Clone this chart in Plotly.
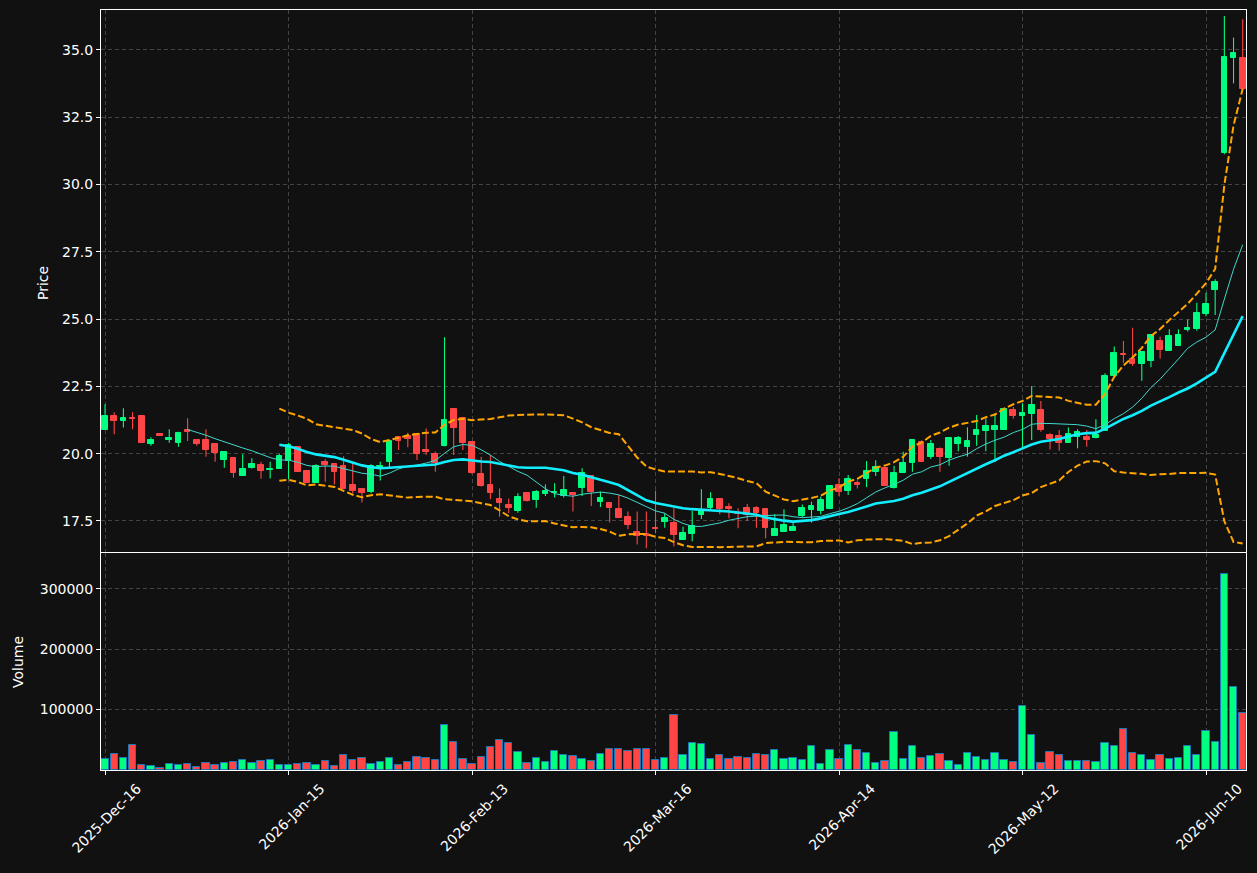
import pandas as pd
import numpy as np
import plotly.graph_objects as go
from plotly.subplots import make_subplots

# ---------------- data ----------------
open_ = [20.88, 21.40, 21.23, 21.33, 21.40, 20.37, 20.73, 20.51, 20.41, 20.88,
         20.51, 20.51, 20.36, 19.77, 19.84, 19.18, 19.47, 19.58, 19.39, 19.45,
         19.74, 20.24, 19.36, 18.92, 19.68, 19.61, 19.54, 18.84, 18.69, 18.59,
         19.50, 19.70, 20.61, 20.66, 20.72, 20.14, 19.99, 20.30, 21.65, 21.34,
         20.42, 19.25, 18.84, 18.32, 18.09, 17.88, 18.53, 18.28, 18.50, 18.55,
         18.44, 18.53, 18.74, 19.18, 18.22, 18.16, 17.93, 17.64, 17.10, 17.01,
         17.25, 17.47, 17.41, 16.79, 17.02, 17.72, 17.97, 18.32, 18.03, 17.80,
         17.99, 17.99, 17.94, 16.95, 17.10, 17.14, 17.69, 17.91, 17.87, 17.94,
         18.84, 18.63, 18.91, 19.05, 19.33, 19.47, 18.71, 19.30, 19.67, 20.45,
         19.89, 20.18, 19.85, 20.36, 20.26, 20.70, 20.84, 20.88, 20.88, 21.62,
         21.40, 21.48, 21.62, 20.70, 20.66, 20.41, 20.63, 20.63, 20.57, 20.86,
         22.89, 23.70, 23.52, 23.33, 23.45, 24.17, 23.82, 24.01, 24.60, 24.62,
         25.19, 26.08, 31.18, 34.71, 34.71]
high = [21.84, 21.54, 21.69, 21.54, 21.40, 20.61, 20.73, 20.91, 20.82, 21.32,
        20.51, 20.91, 20.36, 20.06, 19.84, 19.98, 19.83, 19.70, 19.70, 19.99,
        20.40, 20.27, 19.36, 19.61, 19.79, 19.61, 19.91, 19.67, 18.69, 19.61,
        19.70, 20.47, 20.61, 20.78, 20.72, 20.94, 20.08, 24.33, 21.65, 21.34,
        20.45, 19.89, 19.95, 18.71, 18.34, 18.53, 18.55, 18.65, 18.86, 18.90,
        19.17, 18.55, 19.46, 19.18, 18.59, 18.16, 18.47, 17.85, 17.85, 17.85,
        18.63, 17.79, 17.97, 17.29, 17.87, 18.68, 18.57, 18.32, 18.16, 17.97,
        18.13, 18.05, 17.94, 17.75, 17.94, 17.44, 18.11, 18.22, 18.40, 18.84,
        19.09, 19.21, 19.00, 19.73, 19.76, 19.50, 19.55, 20.07, 20.55, 20.50,
        20.51, 20.23, 20.57, 20.66, 20.98, 21.44, 21.31, 21.50, 21.71, 21.74,
        21.87, 22.52, 21.96, 20.76, 20.88, 20.97, 20.91, 20.88, 21.28, 22.99,
        23.98, 24.19, 24.68, 23.79, 24.42, 24.35, 24.62, 24.62, 24.99, 25.61,
        25.98, 26.48, 36.26, 35.46, 36.14]
low = [20.88, 20.72, 20.97, 20.91, 20.41, 20.30, 20.66, 20.41, 20.26, 20.47,
       20.30, 19.89, 19.70, 19.48, 19.11, 19.18, 19.45, 19.07, 19.08, 19.45,
       19.05, 19.33, 18.90, 18.92, 18.96, 18.86, 18.69, 18.53, 18.19, 18.53,
       19.00, 19.49, 20.14, 20.24, 19.77, 19.96, 19.33, 20.27, 19.95, 20.14,
       19.25, 18.78, 18.31, 17.66, 17.79, 17.81, 18.22, 17.99, 18.43, 18.37,
       18.37, 17.85, 18.43, 18.06, 18.02, 17.44, 17.62, 17.19, 16.63, 16.49,
       17.04, 17.25, 16.55, 16.79, 16.75, 17.57, 17.95, 17.75, 17.60, 17.23,
       17.50, 17.25, 16.86, 16.95, 17.10, 17.14, 17.63, 17.44, 17.75, 17.94,
       18.43, 18.47, 18.71, 18.76, 19.17, 18.81, 18.71, 19.30, 19.33, 19.70,
       19.80, 19.33, 19.55, 20.09, 19.89, 20.30, 20.09, 19.68, 20.88, 21.31,
       20.20, 20.51, 20.82, 20.16, 20.11, 20.41, 20.20, 20.26, 20.57, 20.86,
       22.89, 23.38, 23.26, 22.71, 23.21, 23.54, 23.82, 24.01, 24.54, 24.57,
       25.11, 25.15, 31.13, 33.76, 33.55]
close = [21.40, 21.23, 21.33, 21.30, 20.41, 20.51, 20.66, 20.58, 20.78, 20.80,
         20.36, 20.14, 20.04, 20.06, 19.29, 19.43, 19.62, 19.37, 19.45, 19.91,
         20.31, 19.33, 18.90, 19.54, 19.58, 19.33, 18.69, 18.61, 18.55, 19.54,
         19.56, 20.47, 20.49, 20.55, 19.99, 20.08, 19.67, 21.25, 20.97, 20.39,
         19.27, 18.80, 18.53, 18.18, 17.99, 18.38, 18.25, 18.57, 18.61, 18.58,
         18.65, 18.47, 19.27, 18.59, 18.37, 17.99, 17.62, 17.35, 16.95, 16.95,
         17.19, 17.62, 16.98, 17.07, 17.33, 17.91, 18.32, 17.95, 17.94, 17.77,
         17.72, 17.79, 17.25, 17.20, 17.35, 17.29, 17.99, 18.06, 18.28, 18.80,
         18.59, 19.06, 18.84, 19.36, 19.50, 18.81, 19.27, 19.64, 20.51, 19.70,
         20.36, 19.89, 20.57, 20.57, 20.47, 20.88, 21.03, 21.03, 21.66, 21.40,
         21.52, 21.81, 20.88, 20.54, 20.41, 20.72, 20.81, 20.51, 20.70, 22.89,
         23.76, 23.66, 23.33, 23.79, 24.42, 23.85, 24.38, 24.42, 24.66, 25.22,
         25.56, 26.39, 34.73, 34.90, 33.55]
volume = [17600, 25900, 19300, 40700, 7700, 6100, 2800, 9400, 7700, 9400,
          4400, 11000, 7700, 11000, 12700, 16000, 11000, 14300, 16000, 7700,
          7700, 9400, 11000, 7700, 14300, 6100, 24200, 16000, 19300, 9400,
          12700, 19300, 7700, 12700, 20900, 19300, 16000, 73700, 45700, 17600,
          9400, 20900, 37400, 49000, 44000, 29200, 11000, 19300, 12700, 30800,
          24200, 22600, 17600, 14300, 25900, 34100, 34100, 30800, 34100, 34100,
          16000, 19300, 90300, 24200, 44000, 42400, 17600, 24200, 17600, 20900,
          19300, 25900, 24200, 32500, 17600, 19300, 16000, 39100, 9400, 32500,
          17600, 40700, 32500, 27500, 11000, 14300, 62200, 17600, 39100, 19300,
          22600, 25900, 14300, 7700, 27500, 20900, 16000, 27500, 16000, 12700,
          105100, 57200, 11000, 29200, 24200, 14300, 14300, 14300, 12700, 44000,
          39100, 67100, 27500, 24200, 16000, 24200, 17600, 19300, 39100, 24200,
          63800, 45700, 324700, 136500, 93600]

start_date = "2025-12-16"
market_holidays = ["2025-12-25", "2026-01-01", "2026-01-19", "2026-02-16",
                   "2026-04-03", "2026-05-25"]
tick_labels = ["2025-Dec-16", "2026-Jan-15", "2026-Feb-13", "2026-Mar-16",
               "2026-Apr-14", "2026-May-12", "2026-Jun-10"]
price_ticks = [17.5, 20.0, 22.5, 25.0, 27.5, 30.0, 32.5, 35.0]
volume_ticks = [100000, 200000, 300000]

# ---------------- derived ----------------
dates = pd.date_range(start=start_date, periods=len(close),
                      freq=pd.offsets.CustomBusinessDay(holidays=market_holidays))
labels = [d.strftime("%Y-%b-%d") for d in dates]

o = np.array(open_); c = np.array(close); h = np.array(high); l = np.array(low)
up = c >= o
UP, DN = "#00FF80", "#FF4545"
colors = [UP if u else DN for u in up]

cs = pd.Series(c)
ma10 = cs.rolling(10).mean()
ma20 = cs.rolling(20).mean()
sd20 = cs.rolling(20).std(ddof=0)
bb_up = ma20 + 2 * sd20
bb_lo = ma20 - 2 * sd20

fig = make_subplots(rows=2, cols=1, shared_xaxes=True, vertical_spacing=0,
                    row_heights=[0.7132, 0.2868])

# candle bodies
fig.add_trace(go.Bar(x=labels, y=np.abs(c - o), base=np.minimum(o, c),
                     width=0.62, marker=dict(color=colors,
                                             line=dict(color=colors, width=1)),
                     hoverinfo="skip", showlegend=False), row=1, col=1)


def wick(mask, color):
    xs, ys = [], []
    for i in np.where(mask)[0]:
        xs += [labels[i], labels[i], None]
        ys += [l[i], h[i], None]
    return go.Scatter(x=xs, y=ys, mode="lines", line=dict(color=color, width=1.1),
                      hoverinfo="skip", showlegend=False)


fig.add_trace(wick(up, UP), row=1, col=1)
fig.add_trace(wick(~up, DN), row=1, col=1)

# indicator lines
fig.add_trace(go.Scatter(x=labels, y=ma10, mode="lines",
                         line=dict(color="#40D8CC", width=1), showlegend=False),
              row=1, col=1)
fig.add_trace(go.Scatter(x=labels, y=ma20, mode="lines",
                         line=dict(color="#12EEFF", width=2.6), showlegend=False),
              row=1, col=1)
for band in (bb_up, bb_lo):
    fig.add_trace(go.Scatter(x=labels, y=band, mode="lines",
                             line=dict(color="#FFA500", width=2, dash="7px,3px"),
                             showlegend=False), row=1, col=1)

# volume
fig.add_trace(go.Bar(x=labels, y=volume, width=0.8,
                     marker=dict(color=colors, line=dict(color="#1F77B4", width=1)),
                     showlegend=False), row=2, col=1)

FONT = dict(family="DejaVu Sans", size=14, color="#FFFFFF")
grid = dict(showgrid=True, gridcolor="#444444", griddash="4px,3px", gridwidth=1,
            showline=True, linecolor="#FFFFFF", linewidth=1, mirror=True,
            zeroline=False)

fig.update_layout(
    width=1257, height=873,
    paper_bgcolor="#111111", plot_bgcolor="#111111",
    margin=dict(l=101, r=11, t=10, b=103),
    font=FONT, barmode="overlay", bargap=0, showlegend=False,
    annotations=[
        dict(text="Price", xref="paper", yref="paper", x=(43 - 101) / 1145,
             y=(770 - 283) / 760, textangle=-90, showarrow=False,
             xanchor="center", yanchor="middle", font=FONT),
        dict(text="Volume", xref="paper", yref="paper", x=(18 - 101) / 1145,
             y=(770 - 662) / 760, textangle=-90, showarrow=False,
             xanchor="center", yanchor="middle", font=FONT),
    ],
)

xr = [-0.44, len(close) - 1 + 0.36]
fig.update_xaxes(type="category", range=xr, tickvals=tick_labels, **grid)
fig.update_xaxes(showticklabels=False, ticks="", row=1, col=1)
fig.update_xaxes(ticks="outside", ticklen=4, tickcolor="#FFFFFF",
                 tickangle=-45, ticklabelshift=32, row=2, col=1)
fig.update_yaxes(range=[16.348, 36.486], tickvals=price_ticks,
                 ticktext=[f"{v:.1f}" for v in price_ticks], ticks="outside",
                 ticklen=4, tickcolor="#FFFFFF", row=1, col=1, **grid)
fig.update_yaxes(range=[0, 359000], tickvals=volume_ticks,
                 ticktext=[str(v) for v in volume_ticks], ticks="outside",
                 ticklen=4, tickcolor="#FFFFFF", row=2, col=1, **grid)
fig.update_layout(yaxis=dict(domain=[(770 - 552) / 760, 1.0]),
                  yaxis2=dict(domain=[0.0, (770 - 553) / 760]))

fig.write_html("out.html")
